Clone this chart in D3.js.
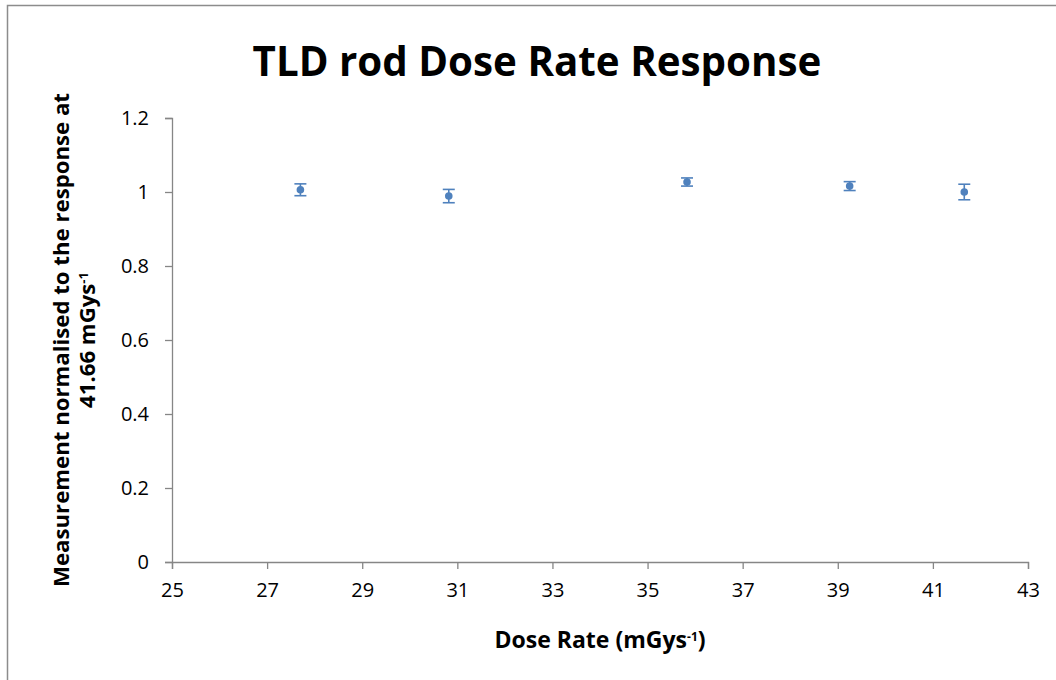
<!DOCTYPE html>
<html>
<head>
<meta charset="utf-8">
<script src="https://cdn.jsdelivr.net/npm/d3@7"></script>
<style>
  body { margin: 0; background: #fff; }
  text { font-family: "Open Sans", "Noto Sans", sans-serif; }
</style>
</head>
<body>
<div id="chart"></div>
<script>
// data
var doseRate = [27.7, 30.82, 35.83, 39.25, 41.66];
var response = [1.006, 0.989, 1.027, 1.016, 1.0];
var errorBar = [0.016, 0.018, 0.011, 0.012, 0.021];
var xTicks = [25, 27, 29, 31, 33, 35, 37, 39, 41, 43];
var yTicks = [0, 0.2, 0.4, 0.6, 0.8, 1, 1.2];

var svgWidth = 1056, svgHeight = 680;
var margin = { top: 118, right: 28, bottom: 118, left: 172 };
var width = svgWidth - margin.left - margin.right;
var height = svgHeight - margin.top - margin.bottom;

var points = doseRate.map((d, i) => ({ x: d, y: response[i], e: errorBar[i] }));

var svg = d3.select("#chart")
    .append("svg")
    .attr("width", svgWidth)
    .attr("height", svgHeight);

// chart border (runs off the right / bottom edge like the original)
svg.append("rect")
    .attr("x", 7.5).attr("y", 5.5)
    .attr("width", 1070).attr("height", 700)
    .attr("fill", "none")
    .attr("stroke", "#8c8c8c")
    .attr("stroke-width", 1.5);

// squeeze a text into a given width by adjusting its font size
function fitWidth(sel, target) {
    var w = sel.node().getComputedTextLength();
    var fs = parseFloat(sel.style("font-size"));
    sel.style("font-size", (fs * target / w) + "px");
}

var title = svg.append("text")
    .attr("x", 537)
    .attr("y", 76)
    .attr("text-anchor", "middle")
    .style("font-size", "40px")
    .style("font-weight", "bold")
    .text("TLD rod Dose Rate Response");
fitWidth(title, 569);

var g = svg.append("g")
    .attr("transform", "translate(" + margin.left + "," + margin.top + ")");

var xScale = d3.scaleLinear().domain([25, 43]).range([0, width]);
var yScale = d3.scaleLinear().domain([0, 1.2]).range([height, 0]);

var xAxis = g.append("g")
    .attr("transform", "translate(0," + height + ")")
    .call(d3.axisBottom(xScale).tickValues(xTicks).tickSize(7).tickPadding(14));

var yAxis = g.append("g")
    .call(d3.axisLeft(yScale).tickValues(yTicks).tickSize(7).tickPadding(16)
        .tickFormat(d => String(+d.toFixed(1))));

[xAxis, yAxis].forEach(a => {
    a.attr("font-size", null).attr("font-family", null);
    a.select(".domain").attr("stroke", "#868686").attr("stroke-width", 1.3);
    a.selectAll(".tick line").attr("stroke", "#868686").attr("stroke-width", 1.3);
    a.selectAll(".tick text")
        .style("font-size", "20px")
        .attr("fill", "#000");
});

// error bars
var bars = g.selectAll(".err")
    .data(points)
    .enter().append("g")
    .attr("class", "err")
    .attr("stroke", "#4F81BD")
    .attr("stroke-width", 1.6);

bars.append("line")
    .attr("x1", d => xScale(d.x)).attr("x2", d => xScale(d.x))
    .attr("y1", d => yScale(d.y + d.e)).attr("y2", d => yScale(d.y - d.e));
bars.append("line")
    .attr("x1", d => xScale(d.x) - 6).attr("x2", d => xScale(d.x) + 6)
    .attr("y1", d => yScale(d.y + d.e)).attr("y2", d => yScale(d.y + d.e));
bars.append("line")
    .attr("x1", d => xScale(d.x) - 6).attr("x2", d => xScale(d.x) + 6)
    .attr("y1", d => yScale(d.y - d.e)).attr("y2", d => yScale(d.y - d.e));

// markers
g.selectAll(".dot")
    .data(points)
    .enter().append("circle")
    .attr("class", "dot")
    .attr("cx", d => xScale(d.x))
    .attr("cy", d => yScale(d.y))
    .attr("r", 3.8)
    .attr("fill", "#4F81BD");

// x label with superscript
var xl = svg.append("text")
    .attr("x", margin.left + width / 2)
    .attr("y", 648)
    .attr("text-anchor", "middle")
    .style("font-size", "16px")
    .style("font-weight", "bold");
xl.append("tspan").text("Dose Rate (mGys");
xl.append("tspan").attr("dy", -7).style("font-size", "12px").text("-1");
xl.append("tspan").attr("dy", 7).text(")");
fitWidth(xl, 216);

// y label, two lines
var yl = svg.append("text")
    .attr("transform", "translate(69," + (margin.top + height / 2) + ") rotate(-90)")
    .attr("text-anchor", "middle")
    .style("font-size", "17px")
    .style("font-weight", "bold")
    .text("Measurement normalised to the response at");
fitWidth(yl, 494);

var yl2 = svg.append("text")
    .attr("transform", "translate(95," + (margin.top + height / 2) + ") rotate(-90)")
    .attr("text-anchor", "middle")
    .style("font-size", yl.style("font-size"))
    .style("font-weight", "bold");
yl2.append("tspan").text("41.66 mGys");
yl2.append("tspan").attr("dy", -7).style("font-size", "13px").text("-1");
</script>
</body>
</html>
